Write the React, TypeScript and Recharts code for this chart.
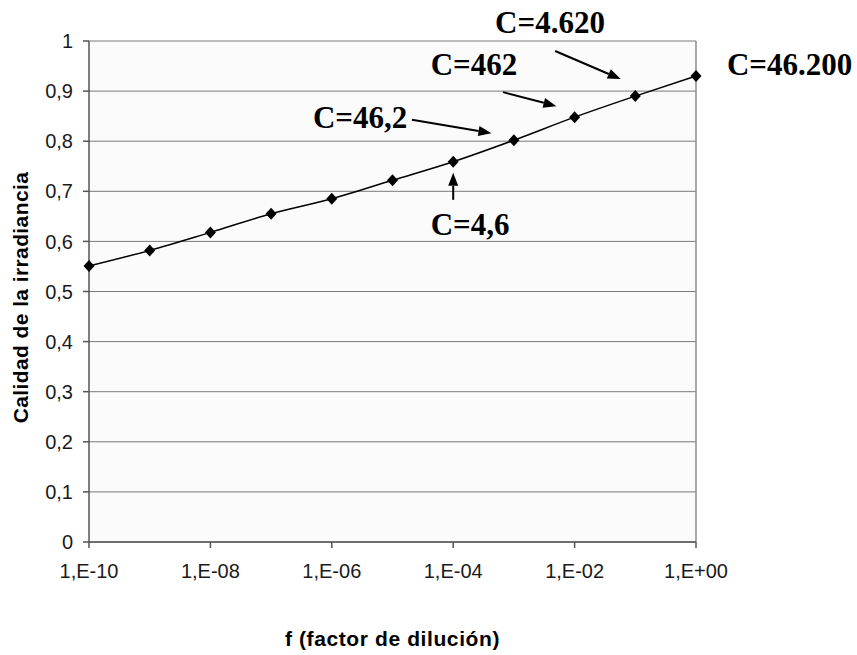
import { LineChart, Line, XAxis, YAxis, CartesianGrid, ReferenceLine, ReferenceDot } from "recharts";

// log10 of the dilution factor f, and the irradiance quality
const exponents = [-10, -9, -8, -7, -6, -5, -4, -3, -2, -1, 0];
const quality = [0.551, 0.582, 0.618, 0.655, 0.685, 0.722, 0.759, 0.802, 0.848, 0.89, 0.93];

const xTicks = [-10, -8, -6, -4, -2, 0];
const xTickLabels = ["1,E-10", "1,E-08", "1,E-06", "1,E-04", "1,E-02", "1,E+00"];
const yTicks = [0, 0.1, 0.2, 0.3, 0.4, 0.5, 0.6, 0.7, 0.8, 0.9, 1];
const yTickLabels = ["0", "0,1", "0,2", "0,3", "0,4", "0,5", "0,6", "0,7", "0,8", "0,9", "1"];

// annotation labels and arrows, in data coordinates (exponent, quality)
const notes = [
  { text: "C=4,6", x: -4.37, y: 0.613 },
  { text: "C=46,2", x: -6.31, y: 0.826 },
  { text: "C=462", x: -4.37, y: 0.932 },
  { text: "C=4.620", x: -3.31, y: 1.015 },
  { text: "C=46.200", x: 0.51, y: 0.932 },
];
const arrows = [
  { from: { x: -4.0, y: 0.683 }, to: { x: -4.0, y: 0.737 } },
  { from: { x: -4.68, y: 0.843 }, to: { x: -3.37, y: 0.816 } },
  { from: { x: -3.18, y: 0.898 }, to: { x: -2.3, y: 0.87 } },
  { from: { x: -2.32, y: 0.98 }, to: { x: -1.24, y: 0.924 } },
];

const data = exponents.map((e, i) => ({ e, q: quality[i] }));

const sans = "Liberation Sans, Arial, sans-serif";
const tickStyle = { fill: "#1a1a1a", fontSize: 20, fontFamily: sans };
const titleStyle = { fontSize: 21, fontWeight: 700, fill: "#000", fontFamily: sans };

function Diamond(props: any) {
  const { cx, cy, index } = props;
  if (cx == null || cy == null) return null;
  return (
    <path
      key={`d-${index}`}
      d={`M${cx},${cy - 6}L${cx + 5.5},${cy}L${cx},${cy + 6}L${cx - 5.5},${cy}Z`}
      fill="#000"
    />
  );
}

function Arrow(props: any) {
  const { x1, y1, x2, y2 } = props;
  if ([x1, y1, x2, y2].some((v) => v == null || isNaN(v))) return null;
  const dx = x2 - x1;
  const dy = y2 - y1;
  const len = Math.sqrt(dx * dx + dy * dy) || 1;
  const ux = dx / len;
  const uy = dy / len;
  const hl = 13;
  const hw = 5;
  const bx = x2 - ux * hl;
  const by = y2 - uy * hl;
  return (
    <g>
      <line x1={x1} y1={y1} x2={bx} y2={by} stroke="#000" strokeWidth={2} />
      <path
        d={`M${x2},${y2}L${bx - uy * hw},${by + ux * hw}L${bx + uy * hw},${by - ux * hw}Z`}
        fill="#000"
      />
    </g>
  );
}

export default function App() {
  return (
    <div style={{ position: "absolute", left: 0, top: 0, width: 857, height: 655, background: "#fff" }}>
      <LineChart width={857} height={655} data={data} margin={{ top: 41, right: 161, bottom: 0, left: 0 }}>
        <CartesianGrid vertical={false} stroke="#7a7a7a" fill="#fbfbfb" />
        <XAxis
          dataKey="e"
          type="number"
          domain={[-10, 0]}
          ticks={xTicks}
          tickFormatter={(v: number) => xTickLabels[xTicks.indexOf(v)] ?? ""}
          height={113}
          tick={tickStyle}
          tickSize={6}
          tickMargin={16}
          stroke="#555"
          strokeWidth={1.5}
          label={{
            value: "f (factor de dilución)",
            position: "insideBottom",
            offset: 9,
            style: { ...titleStyle, letterSpacing: 0.6 },
          }}
        />
        <YAxis
          type="number"
          domain={[0, 1]}
          ticks={yTicks}
          tickFormatter={(v: number) => yTickLabels[yTicks.indexOf(v)] ?? ""}
          width={89}
          tick={tickStyle}
          tickSize={6}
          tickMargin={10}
          stroke="#555"
          strokeWidth={1.5}
          label={{
            content: (p: any) => {
              const vb = p.viewBox || { x: 0, y: 41, height: 501 };
              const cx = vb.x + 20;
              const cy = vb.y + vb.height / 2 + 6;
              return (
                <text
                  x={cx}
                  y={cy}
                  transform={`rotate(-90 ${cx} ${cy})`}
                  textAnchor="middle"
                  dominantBaseline="central"
                  style={{ ...titleStyle, letterSpacing: 0.4 }}
                >
                  Calidad de la irradiancia
                </text>
              );
            },
          }}
        />
        <ReferenceLine x={0} stroke="#8c8c8c" strokeWidth={1.5} />
        <Line
          type="monotone"
          dataKey="q"
          stroke="#000"
          strokeWidth={1.5}
          dot={Diamond}
          activeDot={false}
          isAnimationActive={false}
        />
        {arrows.map((a, i) => (
          <ReferenceLine key={`a-${i}`} segment={[a.from, a.to]} ifOverflow="visible" shape={Arrow} />
        ))}
        {notes.map((n) => (
          <ReferenceDot
            key={n.text}
            x={n.x}
            y={n.y}
            r={0}
            ifOverflow="visible"
            shape={(p: any) => (
              <text
                x={p.cx}
                y={p.cy}
                style={{ fontSize: 31, fontWeight: 700, fill: "#000", fontFamily: "Liberation Serif, Times New Roman, serif" }}
              >
                {n.text}
              </text>
            )}
          />
        ))}
      </LineChart>
    </div>
  );
}
